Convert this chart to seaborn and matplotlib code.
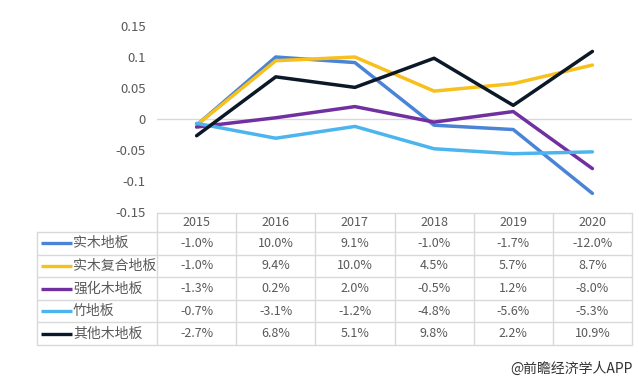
import matplotlib
matplotlib.use("Agg")
import matplotlib.pyplot as plt
from matplotlib.lines import Line2D
import seaborn as sns
import pandas as pd
from matplotlib.ticker import FixedLocator, FuncFormatter

years = ["2015", "2016", "2017", "2018", "2019", "2020"]
series_names = ["实木地板", "实木复合地板", "强化木地板", "竹地板", "其他木地板"]
solid_wood = [-1.0, 10.0, 9.1, -1.0, -1.7, -12.0]
engineered = [-1.0, 9.4, 10.0, 4.5, 5.7, 8.7]
laminate = [-1.3, 0.2, 2.0, -0.5, 1.2, -8.0]
bamboo = [-0.7, -3.1, -1.2, -4.8, -5.6, -5.3]
other_wood = [-2.7, 6.8, 5.1, 9.8, 2.2, 10.9]
colors = ["#4A84D6", "#F7C01C", "#7030A0", "#4DB5EE", "#0B1828"]
yticks = [0.15, 0.1, 0.05, 0, -0.05, -0.1, -0.15]

all_vals = [solid_wood, engineered, laminate, bamboo, other_wood]
rows = []
for name, vals in zip(series_names, all_vals):
    for i, (yr, v) in enumerate(zip(years, vals)):
        rows.append({"series": name, "x": i, "year": yr, "value": v / 100.0, "pct": v})
df = pd.DataFrame(rows)

sns.set_theme(style="white")
plt.rcParams["font.family"] = ["Noto Sans CJK SC", "DejaVu Sans"]

W, H = 639, 380
fig = plt.figure(figsize=(W / 100, H / 100), dpi=100)

def fx(px):
    return px / W

def fy(py):
    return 1 - py / H

ax_left, ax_right, ax_top, ax_bottom = 157, 632, 26, 212
ax = fig.add_axes([fx(ax_left), fy(ax_bottom), fx(ax_right - ax_left), (ax_bottom - ax_top) / H])
ax.axhline(0, color="#D9D9D9", lw=1, zorder=0)
sns.lineplot(data=df, x="x", y="value", hue="series", hue_order=series_names,
             palette=colors, linewidth=2.5, ax=ax, legend=False, sort=False)
ax.set_xlim(-0.5, 5.5)
ax.set_ylim(-0.15, 0.15)
ax.yaxis.set_major_locator(FixedLocator(yticks))
ax.yaxis.set_major_formatter(FuncFormatter(lambda v, p: f"{v:g}" if abs(v) > 1e-9 else "0"))
ax.set_xticks([])
ax.set_xlabel("")
ax.set_ylabel("")
for s in ax.spines.values():
    s.set_visible(False)
ax.tick_params(axis="y", length=0, pad=8, labelsize=9.5, labelcolor="#595959")
ax.patch.set_alpha(0)

# Data table
border = "#D9D9D9"
col_left = 157
col_w = (632 - 157) / len(years)
legend_left = 37
header_top, header_bot = 213, 232
row_h = (345 - 232) / len(series_names)
table_bot = header_bot + row_h * len(series_names)

def hline(x0, x1, y):
    fig.add_artist(Line2D([fx(x0), fx(x1)], [fy(y), fy(y)], color=border, lw=1))

def vline(x, y0, y1):
    fig.add_artist(Line2D([fx(x), fx(x)], [fy(y0), fy(y1)], color=border, lw=1))

hline(col_left, 632, header_top)
hline(legend_left, 632, header_bot)
for r in range(len(series_names)):
    hline(legend_left, 632, header_bot + row_h * (r + 1))
vline(legend_left, header_bot, table_bot)
for c in range(len(years) + 1):
    vline(col_left + col_w * c, header_top, table_bot)

for c, yr in enumerate(years):
    fig.text(fx(col_left + col_w * (c + 0.5)), fy((header_top + header_bot) / 2), yr,
             ha="center", va="center", fontsize=9, color="#595959")

for r, (name, vals, col) in enumerate(zip(series_names, all_vals, colors)):
    yc = header_bot + row_h * (r + 0.5)
    fig.add_artist(Line2D([fx(41), fx(72)], [fy(yc), fy(yc)], color=col, lw=2.4,
                          solid_capstyle="butt"))
    fig.text(fx(73), fy(yc), name, ha="left", va="center", fontsize=10, color="#595959")
    for c, v in enumerate(vals):
        fig.text(fx(col_left + col_w * (c + 0.5)), fy(yc), f"{v:.1f}%",
                 ha="center", va="center", fontsize=9, color="#595959")

fig.text(fx(633), fy(369), "@前瞻经济学人APP", ha="right", va="center",
         fontsize=10, color="#333333")

fig.savefig("out.png", dpi=100)
